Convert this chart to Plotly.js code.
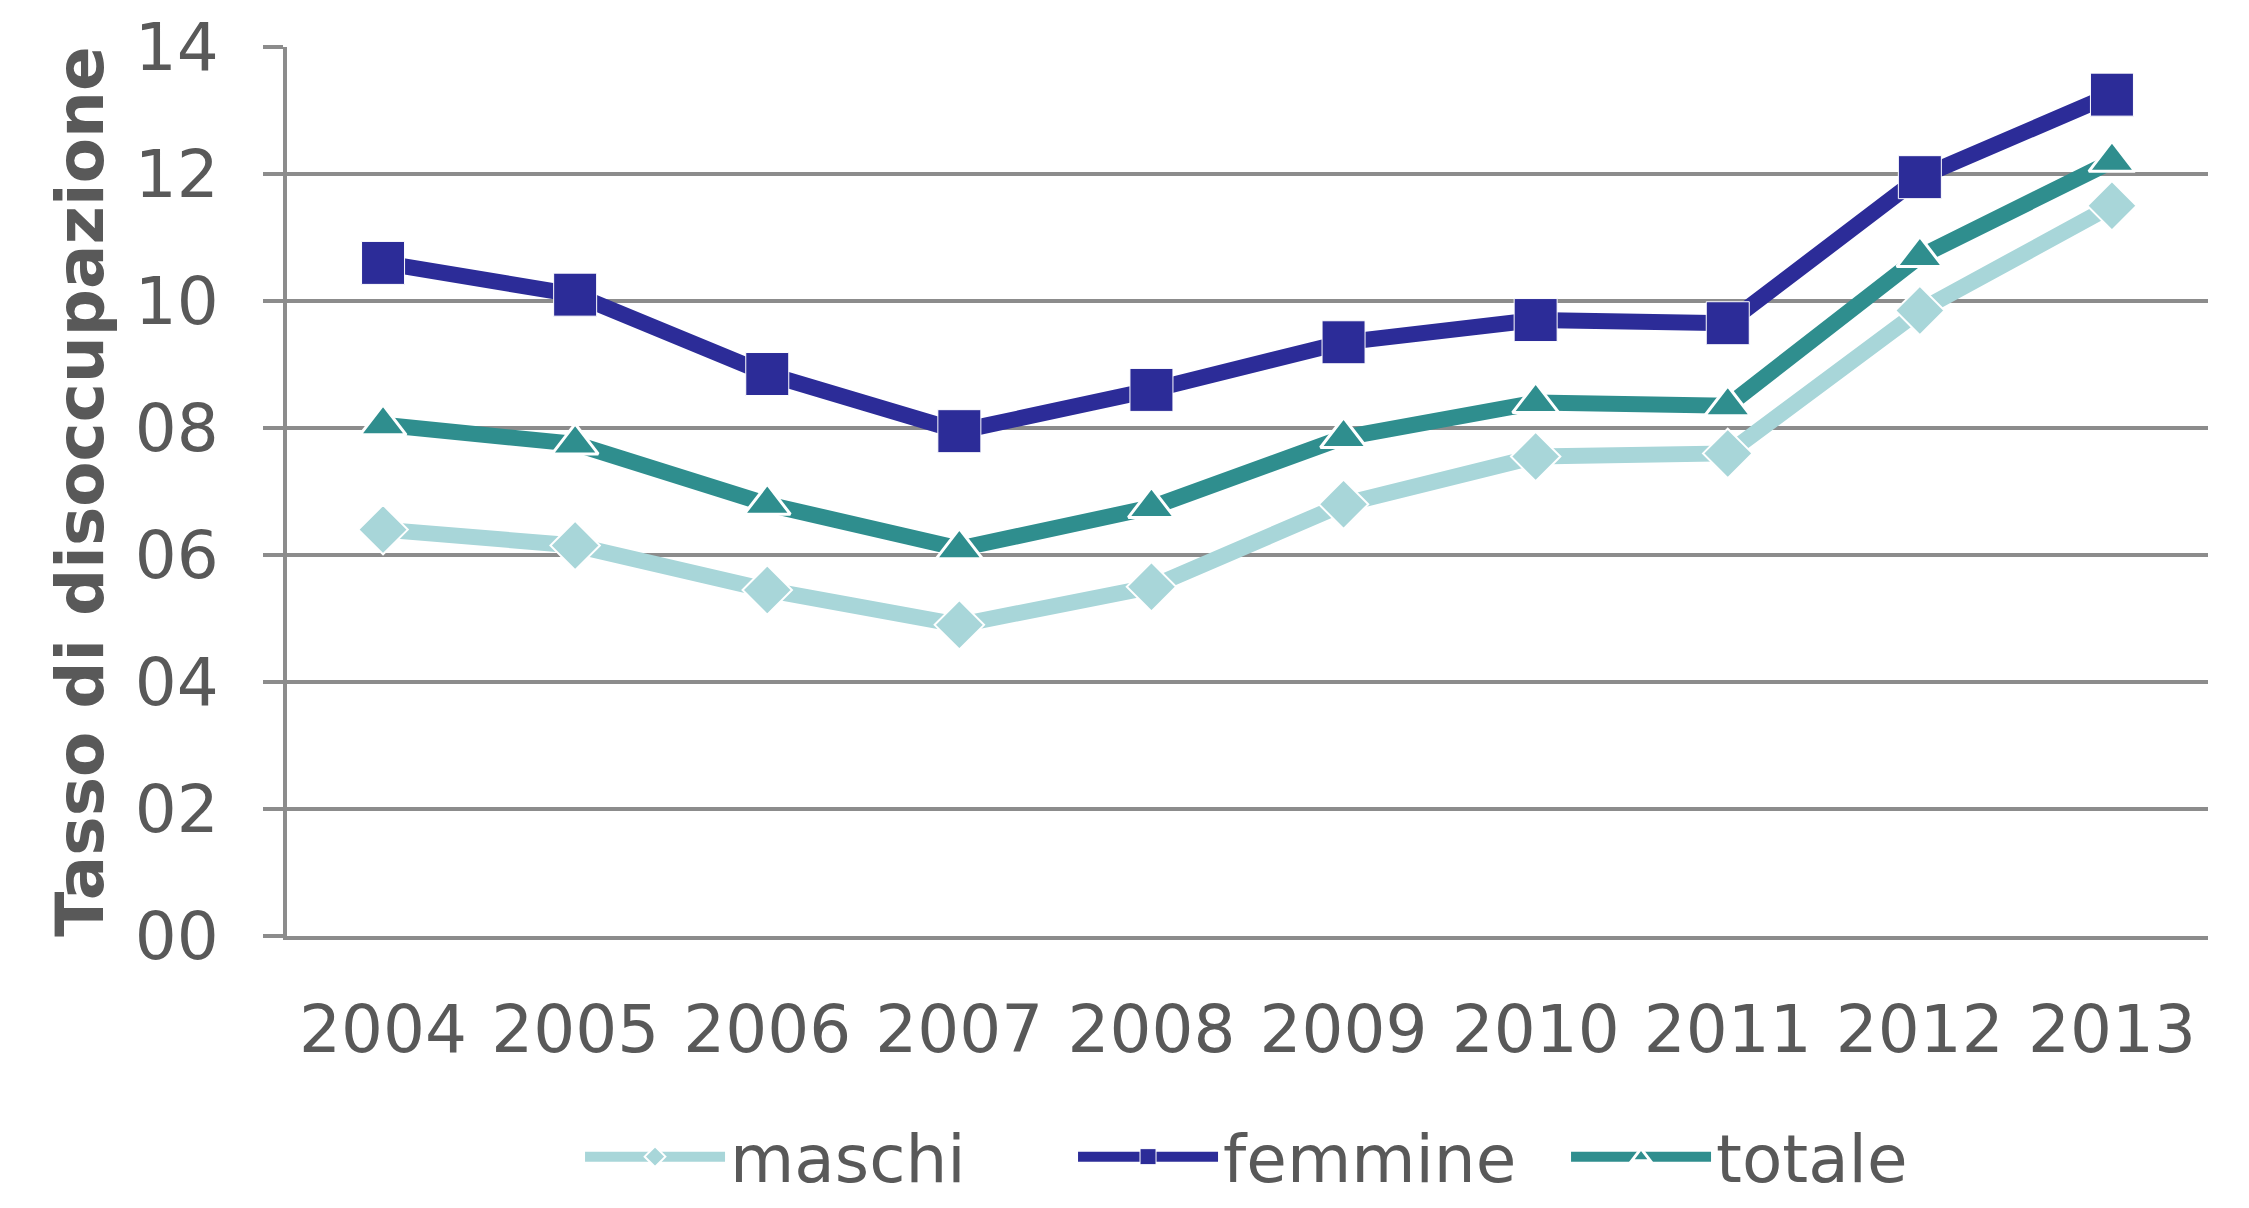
<!DOCTYPE html>
<html>
<head>
<meta charset="utf-8">
<script src="https://cdn.plot.ly/plotly-3.0.1.min.js"></script>
<style>
  html, body { margin: 0; padding: 0; background: #ffffff; }
  #chart { width: 2249px; height: 1208px; }
</style>
</head>
<body>
<div id="chart"></div>
<script>
// ---- data ----
const years = ["2004", "2005", "2006", "2007", "2008", "2009", "2010", "2011", "2012", "2013"];
const maschi = [6.4, 6.15, 5.45, 4.9, 5.5, 6.8, 7.55, 7.6, 9.85, 11.5];
const femmine = [10.6, 10.1, 8.85, 7.95, 8.6, 9.35, 9.7, 9.65, 11.95, 13.25];
const totale = [8.05, 7.75, 6.8, 6.1, 6.75, 7.85, 8.4, 8.35, 10.7, 12.2];
const yTickVals = [0, 2, 4, 6, 8, 10, 12, 14];
const yTickText = ["00", "02", "04", "06", "08", "10", "12", "14"];
const seriesNames = ["maschi", "femmine", "totale"];
const yTitle = "Tasso di disoccupazione";

// ---- styles ----
const textColor = "#595959";
const gridColor = "#8c8c8c";
const font = "DejaVu Sans, Verdana, sans-serif";

const traces = [
  {
    x: years, y: maschi, name: seriesNames[0], type: "scatter", mode: "lines+markers",
    line: { color: "#a8d6d9", width: 16 },
    marker: { symbol: "diamond", size: 38, color: "#a8d6d9", line: { color: "#ffffff", width: 2 } }
  },
  {
    x: years, y: femmine, name: seriesNames[1], type: "scatter", mode: "lines+markers",
    line: { color: "#2c2c98", width: 16 },
    marker: { symbol: "square", size: 43, color: "#2c2c98", line: { color: "#ffffff", width: 1 } }
  },
  {
    x: years, y: totale, name: seriesNames[2], type: "scatter", mode: "lines+markers",
    line: { color: "#2f8e8e", width: 16 },
    marker: { symbol: "triangle-up", size: 40, color: "#2f8e8e", line: { color: "#ffffff", width: 3 } }
  }
];

const layout = {
  width: 2249,
  height: 1208,
  paper_bgcolor: "#ffffff",
  plot_bgcolor: "#ffffff",
  margin: { l: 287, r: 41, t: 47, b: 272, pad: 0, autoexpand: false },
  font: { family: font, size: 66, color: textColor },
  showlegend: true,
  legend: {
    orientation: "h",
    x: 0.5375, xanchor: "center",
    y: -0.304, yanchor: "bottom",
    font: { family: font, size: 66, color: textColor },
    itemwidth: 140,
    entrywidthmode: "pixels",
    entrywidth: 338,
    traceorder: "normal",
    borderwidth: 0,
    bgcolor: "rgba(0,0,0,0)"
  },
  xaxis: {
    type: "category",
    range: [-0.5, 9.5],
    showgrid: false,
    showline: true,
    linecolor: gridColor,
    linewidth: 4,
    ticks: "",
    ticklabelstandoff: 33,
    tickfont: { family: font, size: 66, color: textColor },
    zeroline: false,
    fixedrange: true
  },
  yaxis: {
    range: [0, 14],
    tickvals: yTickVals,
    ticktext: yTickText,
    showgrid: true,
    gridcolor: gridColor,
    gridwidth: 4,
    showline: true,
    linecolor: gridColor,
    linewidth: 4,
    ticks: "outside",
    ticklen: 20,
    tickwidth: 4,
    tickcolor: gridColor,
    ticklabelstandoff: 31,
    tickfont: { family: font, size: 66, color: textColor },
    zeroline: false,
    title: {
      text: yTitle,
      font: { family: "DejaVu Sans, Verdana, sans-serif", size: 66, color: textColor, weight: "bold" },
      standoff: 11
    },
    fixedrange: true
  }
};

Plotly.newPlot("chart", traces, layout, { staticPlot: true, displayModeBar: false });
</script>
</body>
</html>
